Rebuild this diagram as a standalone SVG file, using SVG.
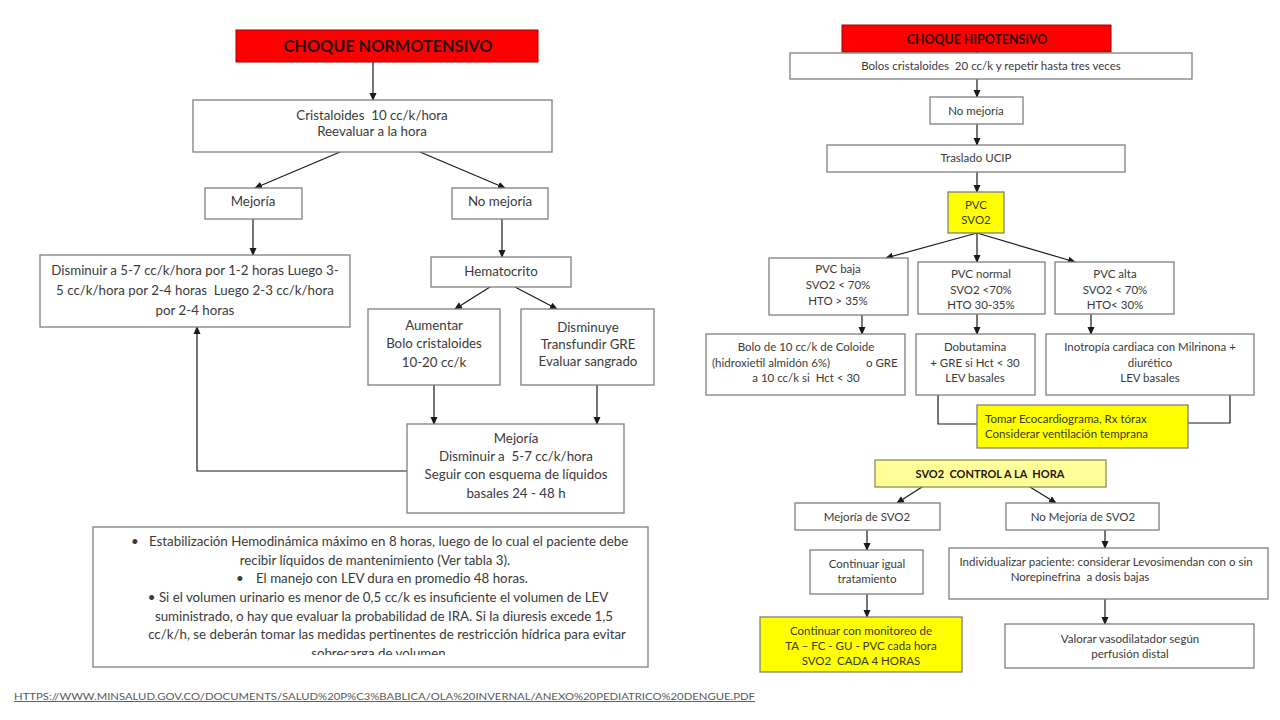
<svg xmlns="http://www.w3.org/2000/svg" width="1280" height="720" viewBox="0 0 1280 720">
<defs>
<marker id="ah" markerWidth="8" markerHeight="8" refX="7" refY="4" orient="auto" markerUnits="userSpaceOnUse">
<path d="M0,0.5 L8,4 L0,7.5 Z" fill="#1a1a1a"/>
</marker>
<clipPath id="clipNote"><rect x="93" y="527" width="556" height="128"/></clipPath>
<style>
.box{fill:#fff;stroke:#7f7f7f;stroke-width:1.3}
.red{fill:#ff0000;stroke:#a00000;stroke-width:1}
.yel{fill:#ffff00;stroke:#7f7f7f;stroke-width:1.3}
.lyel{fill:#ffff99;stroke:#948a54;stroke-width:1.3}
.t{font-family:Lato,"Liberation Sans",sans-serif;fill:#3a3a3a;text-anchor:middle}
.l{font-size:13.3px}
.r{font-size:11.5px}
.hd{font-family:Lato,"Liberation Sans",sans-serif;font-weight:bold;fill:#2a1010;text-anchor:middle}
.ty{fill:#3a3a10}
.st{text-anchor:start}
.c{fill:none;stroke:#1a1a1a;stroke-width:1.2}
.ca{fill:none;stroke:#1a1a1a;stroke-width:1.2;marker-end:url(#ah)}
</style>
</defs>
<rect width="1280" height="720" fill="#fff"/>

<g id="connectors">
<line class="ca" x1="373" y1="62" x2="373" y2="100"/>
<line class="ca" x1="340" y1="152" x2="255" y2="188"/>
<line class="ca" x1="420" y1="152" x2="505" y2="188"/>
<line class="ca" x1="253" y1="219" x2="253" y2="255"/>
<line class="ca" x1="502" y1="219" x2="502" y2="257"/>
<line class="ca" x1="490" y1="287" x2="455" y2="309"/>
<line class="ca" x1="515" y1="287" x2="557" y2="309"/>
<line class="ca" x1="434" y1="385" x2="434" y2="424"/>
<line class="ca" x1="597" y1="385" x2="597" y2="424"/>
<polyline class="ca" points="407,471 197,471 197,327"/>

<line class="ca" x1="977" y1="27" x2="977" y2="53"/>
<line class="ca" x1="977" y1="79" x2="977" y2="97"/>
<line class="ca" x1="977" y1="124" x2="977" y2="145"/>
<line class="ca" x1="977" y1="172" x2="977" y2="192"/>
<line class="ca" x1="977" y1="233" x2="886" y2="258"/>
<line class="ca" x1="977" y1="233" x2="977" y2="262"/>
<line class="ca" x1="977" y1="233" x2="1075" y2="262"/>
<line class="ca" x1="862" y1="315" x2="862" y2="334"/>
<line class="ca" x1="977" y1="314" x2="977" y2="334"/>
<line class="ca" x1="1091" y1="314" x2="1091" y2="334"/>
<polyline class="c" points="938,395 938,424 977,424"/>
<polyline class="c" points="1230,395 1230,423 1188,423"/>
<line class="ca" x1="922" y1="487" x2="897" y2="503"/>
<line class="ca" x1="1030" y1="487" x2="1056" y2="503"/>
<line class="ca" x1="867" y1="530" x2="867" y2="550"/>
<line class="ca" x1="1105" y1="530" x2="1105" y2="548"/>
<line class="ca" x1="867" y1="594" x2="867" y2="617"/>
<line class="ca" x1="1105" y1="599" x2="1105" y2="624"/>
</g>

<g id="n-normo">
<rect class="red" x="236" y="30" width="302" height="32"/>
<text class="hd" x="388" y="52" font-size="16.3">CHOQUE NORMOTENSIVO</text>
</g>
<g id="n-cristaloides">
<rect class="box" x="193" y="100" width="359" height="52"/>
<text class="t l" x="372" y="119.5">Cristaloides &#160;10 cc/k/hora</text>
<text class="t l" x="372" y="135.5">Reevaluar a la hora</text>
</g>
<g id="n-mejoria">
<rect class="box" x="205" y="188" width="97" height="31"/>
<text class="t l" x="253" y="205.5">Mejoría</text>
</g>
<g id="n-nomejoria">
<rect class="box" x="452" y="188" width="96" height="31"/>
<text class="t l" x="500" y="205.5">No mejoría</text>
</g>
<g id="n-disminuir">
<rect class="box" x="40" y="255" width="310" height="72"/>
<text class="t l" x="195" y="274.5">Disminuir a 5-7 cc/k/hora por 1-2 horas Luego 3-</text>
<text class="t l" x="195" y="294.5">5 cc/k/hora por 2-4 horas &#160;Luego 2-3 cc/k/hora</text>
<text class="t l" x="195" y="314.5">por 2-4 horas</text>
</g>
<g id="n-hematocrito">
<rect class="box" x="431" y="257" width="140" height="30"/>
<text class="t l" x="501" y="275.5">Hematocrito</text>
</g>
<g id="n-aumentar">
<rect class="box" x="368" y="309" width="132" height="76"/>
<text class="t l" x="434" y="329.5">Aumentar</text>
<text class="t l" x="434" y="347.5">Bolo cristaloides</text>
<text class="t l" x="434" y="366.5">10-20 cc/k</text>
</g>
<g id="n-disminuye">
<rect class="box" x="521" y="309" width="133" height="76"/>
<text class="t l" x="588" y="331.5">Disminuye</text>
<text class="t l" x="588" y="348.5">Transfundir GRE</text>
<text class="t l" x="588" y="365.5">Evaluar sangrado</text>
</g>
<g id="n-mejoria2">
<rect class="box" x="407" y="424" width="217" height="89"/>
<text class="t l" x="516" y="442.5">Mejoría</text>
<text class="t l" x="516" y="460.5">Disminuir a &#160;5-7 cc/k/hora</text>
<text class="t l" x="516" y="478.5">Seguir con esquema de líquidos</text>
<text class="t l" x="516" y="497.5">basales 24 - 48 h</text>
</g>
<g id="n-nota">
<rect class="box" x="93" y="527" width="555" height="140"/>
<g clip-path="url(#clipNote)">
<text class="t l st" x="131" y="545.5">•</text>
<text class="t l st" x="149" y="545.5">Estabilización Hemodinámica máximo en 8 horas, luego de lo cual el paciente debe</text>
<text class="t l" x="375" y="564.5">recibir líquidos de mantenimiento (Ver tabla 3).</text>
<text class="t l st" x="236" y="582.5">•</text>
<text class="t l st" x="256" y="582.5">El manejo con LEV dura en promedio 48 horas.</text>
<text class="t l" x="378" y="601.5">• Si el volumen urinario es menor de 0,5 cc/k es insuficiente el volumen de LEV</text>
<text class="t l" x="384" y="620.5">suministrado, o hay que evaluar la probabilidad de IRA. Si la diuresis excede 1,5</text>
<text class="t l" x="387" y="638.5">cc/k/h, se deberán tomar las medidas pertinentes de restricción hídrica para evitar</text>
<text class="t l" x="380" y="657.5">sobrecarga de volumen.</text>
</g>
</g>

<g id="n-hipo">
<rect class="red" x="842" y="25" width="269" height="27"/>
<text class="hd" x="977" y="43.5" font-size="12.4">CHOQUE HIPOTENSIVO</text>
</g>
<g id="n-bolos">
<rect class="box" x="790" y="53" width="402" height="26"/>
<text class="t r" x="991" y="70">Bolos cristaloides &#160;20 cc/k y repetir hasta tres veces</text>
</g>
<g id="n-nomejoria-r">
<rect class="box" x="930" y="97" width="93" height="27"/>
<text class="t r" x="976" y="115">No mejoría</text>
</g>
<g id="n-traslado">
<rect class="box" x="827" y="145" width="298" height="27"/>
<text class="t r" x="976" y="162">Traslado UCIP</text>
</g>
<g id="n-pvc">
<rect class="yel" x="948" y="192" width="56" height="41"/>
<text class="t r ty" x="976" y="209">PVC</text>
<text class="t r ty" x="976" y="224">SVO2</text>
</g>
<g id="n-pvcbaja">
<rect class="box" x="769" y="258" width="139" height="57"/>
<text class="t r" x="838" y="273">PVC baja</text>
<text class="t r" x="838" y="289">SVO2 &lt; 70%</text>
<text class="t r" x="838" y="305">HTO &gt; 35%</text>
</g>
<g id="n-pvcnormal">
<rect class="box" x="918" y="262" width="127" height="52"/>
<text class="t r" x="981" y="278">PVC normal</text>
<text class="t r" x="981" y="294">SVO2 &lt;70%</text>
<text class="t r" x="981" y="309">HTO 30-35%</text>
</g>
<g id="n-pvcalta">
<rect class="box" x="1055" y="262" width="119" height="52"/>
<text class="t r" x="1115" y="278">PVC alta</text>
<text class="t r" x="1115" y="294">SVO2 &lt; 70%</text>
<text class="t r" x="1115" y="309">HTO&lt; 30%</text>
</g>
<g id="n-bolo">
<rect class="box" x="706" y="334" width="199" height="61"/>
<text class="t r" x="806" y="351">Bolo de 10 cc/k de Coloide</text>
<text class="t r st" x="712" y="367">(hidroxietil almidón 6%)</text>
<text class="t r st" x="866" y="367">o GRE</text>
<text class="t r" x="806" y="382">a 10 cc/k si &#160;Hct &lt; 30</text>
</g>
<g id="n-dobutamina">
<rect class="box" x="916" y="334" width="119" height="61"/>
<text class="t r" x="975" y="351">Dobutamina</text>
<text class="t r" x="975" y="367">+ GRE si Hct &lt; 30</text>
<text class="t r" x="975" y="382">LEV basales</text>
</g>
<g id="n-inotropia">
<rect class="box" x="1046" y="334" width="208" height="61"/>
<text class="t r" x="1150" y="351">Inotropía cardiaca con Milrinona +</text>
<text class="t r" x="1150" y="367">diurético</text>
<text class="t r" x="1150" y="382">LEV basales</text>
</g>
<g id="n-tomar">
<rect class="yel" x="977" y="405" width="211" height="43"/>
<text class="t r ty st" x="985" y="422.5">Tomar Ecocardiograma, Rx tórax</text>
<text class="t r ty st" x="985" y="437.5">Considerar ventilación temprana</text>
</g>
<g id="n-svo2control">
<rect class="lyel" x="875" y="460" width="231" height="27"/>
<text class="hd" x="990" y="477.5" font-size="11" fill="#222">SVO2 &#160;CONTROL A LA &#160;HORA</text>
</g>
<g id="n-mejoriasvo2">
<rect class="box" x="795" y="503" width="145" height="27"/>
<text class="t r" x="867" y="520.5">Mejoría de SVO2</text>
</g>
<g id="n-nomejoriasvo2">
<rect class="box" x="1006" y="503" width="153" height="27"/>
<text class="t r" x="1083" y="520.5">No Mejoría de SVO2</text>
</g>
<g id="n-continuar">
<rect class="box" x="810" y="550" width="113" height="44"/>
<text class="t r" x="867" y="567.5">Continuar igual</text>
<text class="t r" x="867" y="582.5">tratamiento</text>
</g>
<g id="n-individualizar">
<rect class="box" x="949" y="548" width="319" height="51"/>
<text class="t r" x="1106" y="565.5">Individualizar paciente: considerar Levosimendan con o sin</text>
<text class="t r" x="1080" y="580.5">Norepinefrina &#160;a dosis bajas</text>
</g>
<g id="n-monitoreo">
<rect class="yel" x="760" y="617" width="202" height="55"/>
<text class="t r ty" x="861" y="634.5">Continuar con monitoreo de</text>
<text class="t r ty" x="861" y="649.5">TA – FC - GU - PVC cada hora</text>
<text class="t r ty" x="861" y="664.5">SVO2 &#160;CADA 4 HORAS</text>
</g>
<g id="n-valorar">
<rect class="box" x="1005" y="624" width="249" height="44"/>
<text class="t r" x="1130" y="642.5">Valorar vasodilatador según</text>
<text class="t r" x="1130" y="657.5">perfusión distal</text>
</g>

<text x="14" y="700" font-family="Lato,'Liberation Sans',sans-serif" font-size="9.5" fill="#595959" text-decoration="underline" textLength="741" lengthAdjust="spacingAndGlyphs">HTTPS://WWW.MINSALUD.GOV.CO/DOCUMENTS/SALUD%20P%C3%BABLICA/OLA%20INVERNAL/ANEXO%20PEDIATRICO%20DENGUE.PDF</text>
</svg>
